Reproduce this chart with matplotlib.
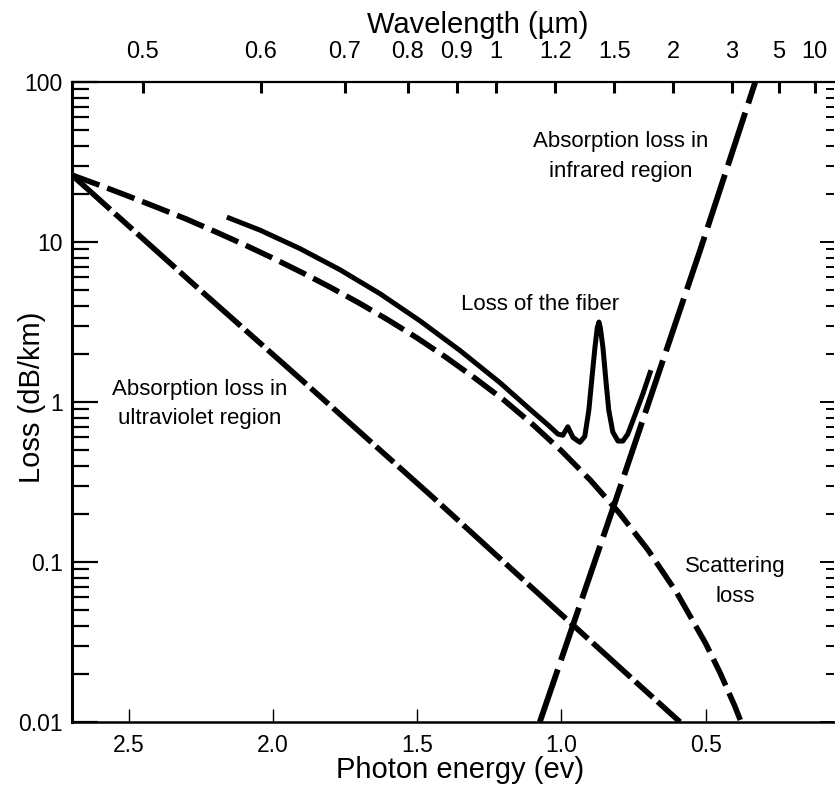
import matplotlib
matplotlib.use('Agg')
import matplotlib.pyplot as plt
import numpy as np
from matplotlib.ticker import FixedLocator, NullFormatter, NullLocator, LogLocator

plt.rcParams['font.family'] = ['Liberation Sans', 'DejaVu Sans']
plt.rcParams['lines.scale_dashes'] = False

# ---------------- data ----------------
# photon energy (eV) vs loss (dB/km)
uv_energy = [2.697, 2.280, 1.908, 1.447, 1.006, 0.589]
uv_loss = [26.2, 5.54, 1.41, 0.255, 0.048, 0.01]

scat_energy = [2.697, 2.6, 2.5, 2.4, 2.3, 2.2, 2.1, 2.0, 1.9, 1.8, 1.7, 1.6, 1.5,
               1.4, 1.3, 1.2, 1.1, 1.0, 0.9, 0.8, 0.7, 0.6, 0.5, 0.45, 0.4, 0.38]
scat_loss = [26.2, 22.6, 19.3, 16.4, 13.9, 11.6, 9.63, 7.92, 6.45, 5.20, 4.14, 3.25, 2.51,
             1.90, 1.41, 1.03, 0.725, 0.495, 0.325, 0.203, 0.119, 0.0642, 0.0310,
             0.0203, 0.0127, 0.0103]

ir_energy = [1.075, 0.815, 0.519, 0.328]
ir_loss = [0.01, 0.234, 8.9, 100]

fiber_energy = [2.160, 2.045, 1.907, 1.768, 1.629, 1.491, 1.352, 1.213, 1.109, 1.047,
                1.012, 0.995, 0.978, 0.960, 0.936, 0.919, 0.905, 0.895, 0.884, 0.876,
                0.870, 0.865, 0.856, 0.846, 0.836, 0.822, 0.804, 0.787, 0.770, 0.746,
                0.718, 0.690]
fiber_loss = [14.3, 11.86, 9.10, 6.71, 4.75, 3.22, 2.10, 1.32, 0.90, 0.72,
              0.63, 0.62, 0.70, 0.60, 0.56, 0.61, 0.89, 1.37, 2.18, 2.90,
              3.16, 2.90, 2.18, 1.37, 0.89, 0.65, 0.57, 0.57, 0.63, 0.82,
              1.12, 1.58]

energy_ticks = [2.5, 2.0, 1.5, 1.0, 0.5]
energy_labels = ['2.5', '2.0', '1.5', '1.0', '0.5']
loss_ticks = [0.01, 0.1, 1, 10, 100]
loss_labels = ['0.01', '0.1', '1', '10', '100']
wl_ticks = [0.5, 0.6, 0.7, 0.8, 0.9, 1, 1.2, 1.5, 2, 3, 5, 10]
wl_labels = ['0.5', '0.6', '0.7', '0.8', '0.9', '1', '1.2', '1.5', '2', '3', '5', '10']

HC = 1.226  # eV*um, as drawn on the original top scale


def e2w(E):
    E = np.asarray(E, dtype=float)
    return HC / np.clip(E, 1e-3, None)


def w2e(w):
    w = np.asarray(w, dtype=float)
    return HC / np.clip(w, 1e-3, None)


# ---------------- figure ----------------
W, H = 835, 785
fig = plt.figure(figsize=(W / 100, H / 100), dpi=100)
L, R, T, B = 72, 834, 82, 722
ax = fig.add_axes([L / W, 1 - B / H, (R - L) / W, (B - T) / H])

ax.set_yscale('log')
ax.set_ylim(0.01, 100)
ax.set_xlim(2.697, 0.055)

# curves
ax.plot(uv_energy, uv_loss, color='black', lw=4.0, linestyle=(0, (37, 4.5, 17, 4.5)))
ax.plot(scat_energy, scat_loss, color='black', lw=4.0, linestyle=(0, (21, 6)))
ax.plot(ir_energy, ir_loss, color='black', lw=4.2, linestyle=(0, (40, 7)))
ax.plot(fiber_energy, fiber_loss, color='black', lw=3.6, solid_joinstyle='round',
        solid_capstyle='butt')

# spines
ax.spines['right'].set_visible(False)
ax.spines['top'].set_visible(False)
ax.spines['left'].set_linewidth(2.2)
ax.spines['bottom'].set_linewidth(1.8)

# bottom axis
ax.set_xticks(energy_ticks)
ax.set_xticklabels(energy_labels)
ax.tick_params(axis='x', which='major', direction='in', length=9.5, width=1.0,
               pad=9, labelsize=16.5, top=False, bottom=True)
ax.xaxis.set_minor_locator(NullLocator())

# left axis
ax.yaxis.set_major_locator(FixedLocator(loss_ticks))
ax.set_yticklabels(loss_labels)
ax.yaxis.set_minor_locator(LogLocator(base=10, subs=np.arange(2, 10)))
ax.yaxis.set_minor_formatter(NullFormatter())
ax.tick_params(axis='y', which='major', direction='in', length=19, width=1.6,
               pad=6.5, labelsize=16.5, left=True, right=False)
ax.tick_params(axis='y', which='minor', direction='in', length=12, width=1.6,
               left=True, right=False)

# right-side ticks
axr = ax.twinx()
axr.set_yscale('log')
axr.set_ylim(ax.get_ylim())
for s in axr.spines.values():
    s.set_visible(False)
axr.yaxis.set_major_locator(FixedLocator(loss_ticks))
axr.yaxis.set_minor_locator(LogLocator(base=10, subs=np.arange(2, 10)))
axr.yaxis.set_major_formatter(NullFormatter())
axr.yaxis.set_minor_formatter(NullFormatter())
axr.tick_params(axis='y', which='major', direction='in', length=10, width=1.4)
axr.tick_params(axis='y', which='minor', direction='in', length=5.5, width=1.4)

# top axis: wavelength
secax = ax.secondary_xaxis('top', functions=(e2w, w2e))
secax.set_xticks(wl_ticks)
secax.set_xticklabels(wl_labels)
secax.xaxis.set_minor_locator(NullLocator())
secax.tick_params(axis='x', which='major', direction='in', length=8, width=2.2,
                  pad=13.5, labelsize=17)
secax.spines['top'].set_linewidth(1.6)
fig.text(478 / W, 1 - 25 / H, 'Wavelength (µm)', fontsize=21, ha='center', va='center')

# axis labels
ax.set_xlabel('Photon energy (ev)', fontsize=21)
ax.xaxis.set_label_coords(0.509, -0.075)
ax.xaxis.label.set_va('center')
ax.set_ylabel('Loss (dB/km)', fontsize=21)
ax.yaxis.set_label_coords(-0.0525, 0.508)
ax.yaxis.label.set_va('center')

# annotations
ax.text(0.614, 0.652, 'Loss of the fiber', transform=ax.transAxes,
        ha='center', va='center', fontsize=16)
ax.text(0.871, 0.220, 'Scattering\nloss', transform=ax.transAxes,
        ha='center', va='center', fontsize=16, multialignment='center', linespacing=1.55)
ax.text(0.720, 0.883, 'Absorption loss in\ninfrared region', transform=ax.transAxes,
        ha='center', va='center', fontsize=16, multialignment='center', linespacing=1.55)
ax.text(0.167, 0.497, 'Absorption loss in\nultraviolet region', transform=ax.transAxes,
        ha='center', va='center', fontsize=16, multialignment='center', linespacing=1.55)

fig.savefig('out.png', dpi=100, facecolor='white')
